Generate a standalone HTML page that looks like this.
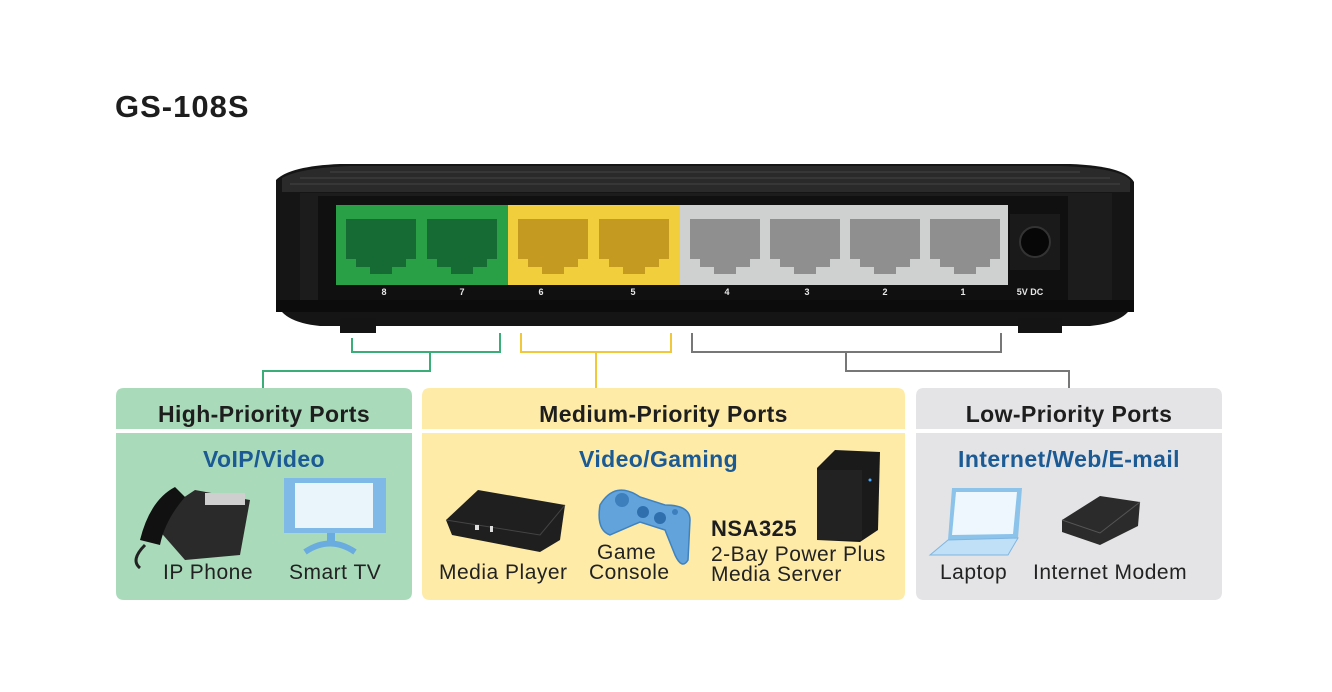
<!DOCTYPE html>
<html><head><meta charset="utf-8">
<style>
html,body{margin:0;padding:0;background:#fff;}
body{width:1332px;height:692px;position:relative;overflow:hidden;font-family:"Liberation Sans",sans-serif;}
.a{position:absolute;}
.t{position:absolute;white-space:nowrap;}
.hd{font-weight:bold;font-size:23px;letter-spacing:0.4px;color:#1e1e1e;text-align:center;}
.sub{font-weight:bold;font-size:23px;letter-spacing:0.4px;color:#1b5a94;text-align:center;}
.lb{font-size:21px;letter-spacing:0.5px;color:#222;}
</style></head><body>
<div class="t" style="left:115px;top:89px;font-size:31px;font-weight:bold;color:#1d1d1d;letter-spacing:1px">GS-108S</div>

<svg class="a" style="left:0;top:0" width="1332" height="692">
 <!-- switch -->
 <path d="M276 180 Q290 166 340 164 L1070 164 Q1125 166 1134 182 L1134 300 Q1130 322 1090 326 L320 326 Q280 322 276 300 Z" fill="#151515"/>
 <path d="M282 178 Q300 168 350 166 L1060 166 Q1120 168 1130 180 L1130 192 L282 192 Z" fill="#2a2a2a"/>
 <g stroke="#444" stroke-width="1"><line x1="330" y1="172" x2="1080" y2="172"/><line x1="300" y1="178" x2="1110" y2="178"/><line x1="290" y1="184" x2="1120" y2="184"/></g>
 <rect x="300" y="193" width="812" height="112" fill="#1c1c1c"/>
 <rect x="318" y="196" width="750" height="107" fill="#101010"/>
 <rect x="276" y="300" width="858" height="12" fill="#0c0c0c"/>
 <rect x="340" y="318" width="36" height="15" fill="#141414"/>
 <rect x="1018" y="318" width="44" height="15" fill="#141414"/>
 <rect x="336" y="205" width="172" height="80" fill="#2aa046"/>
 <rect x="508" y="205" width="172" height="80" fill="#f1cf3c"/>
 <rect x="680" y="205" width="328" height="80" fill="#cfd0d0"/>
 <rect x="1010" y="214" width="50" height="56" fill="#1a1a1a"/>
 <circle cx="1035" cy="242" r="15" fill="#070707" stroke="#333" stroke-width="2"/>
 <g fill="#166b34"><path d="M346 219 h70 v40 h-10 v8 h-14 v7 h-22 v-7 h-14 v-8 h-10z"/><path d="M427 219 h70 v40 h-10 v8 h-14 v7 h-22 v-7 h-14 v-8 h-10z"/></g>
 <g fill="#c59a20"><path d="M518 219 h70 v40 h-10 v8 h-14 v7 h-22 v-7 h-14 v-8 h-10z"/><path d="M599 219 h70 v40 h-10 v8 h-14 v7 h-22 v-7 h-14 v-8 h-10z"/></g>
 <g fill="#8f8f8f"><path d="M690 219 h70 v40 h-10 v8 h-14 v7 h-22 v-7 h-14 v-8 h-10z"/><path d="M770 219 h70 v40 h-10 v8 h-14 v7 h-22 v-7 h-14 v-8 h-10z"/><path d="M850 219 h70 v40 h-10 v8 h-14 v7 h-22 v-7 h-14 v-8 h-10z"/><path d="M930 219 h70 v40 h-10 v8 h-14 v7 h-22 v-7 h-14 v-8 h-10z"/></g>
 <g fill="#e8e8e8" font-family="Liberation Sans" font-weight="bold" font-size="9" text-anchor="middle">
  <text x="384" y="295">8</text><text x="462" y="295">7</text><text x="541" y="295">6</text><text x="633" y="295">5</text>
  <text x="727" y="295">4</text><text x="807" y="295">3</text><text x="885" y="295">2</text><text x="963" y="295">1</text><text x="1030" y="295">5V DC</text>
 </g>
 <!-- connectors -->
 <g fill="none" stroke-width="2">
  <path d="M352 338 V352 H500 V333 M430 352 V371 H263 V388" stroke="#3aae78"/>
  <path d="M521 333 V352 H671 V333 M596 352 V388" stroke="#f0c83a"/>
  <path d="M692 333 V352 H1001 V333 M846 352 V371 H1069 V388" stroke="#777"/>
 </g>
 <!-- panels -->
 <path d="M124 388 H404 Q412 388 412 396 V429 H116 V396 Q116 388 124 388Z" fill="#a9dbba"/>
 <path d="M116 433 H412 V592 Q412 600 404 600 H124 Q116 600 116 592Z" fill="#a9dbba"/>
 <path d="M430 388 H897 Q905 388 905 396 V429 H422 V396 Q422 388 430 388Z" fill="#feeba7"/>
 <path d="M422 433 H905 V592 Q905 600 897 600 H430 Q422 600 422 592Z" fill="#feeba7"/>
 <path d="M924 388 H1214 Q1222 388 1222 396 V429 H916 V396 Q916 388 924 388Z" fill="#e4e4e6"/>
 <path d="M916 433 H1222 V592 Q1222 600 1214 600 H924 Q916 600 916 592Z" fill="#e4e4e6"/>
 <!-- phone -->
 <path d="M150 520 L195 490 L250 500 L240 555 L185 560 Z" fill="#2a2a2a"/>
 <rect x="205" y="493" width="40" height="12" fill="#cfcfcf"/>
 <path d="M140 540 Q150 500 175 487 L185 497 Q165 520 160 545Z" fill="#111"/>
 <path d="M145 545 Q130 560 140 568" stroke="#222" stroke-width="3" fill="none"/>
 <!-- TV -->
 <rect x="284" y="478" width="102" height="55" fill="#7fb9e8"/>
 <rect x="295" y="483" width="78" height="45" fill="#eaf4fb"/>
 <path d="M305 552 Q330 535 355 552" stroke="#6aacdf" stroke-width="6" fill="none"/>
 <rect x="327" y="533" width="8" height="10" fill="#6aacdf"/>
 <!-- media player -->
 <path d="M446 520 L478 490 L565 505 L560 540 L540 552 L452 535Z" fill="#1f1f1f"/>
 <path d="M446 520 L540 535 L565 505" stroke="#444" fill="none"/>
 <rect x="475" y="525" width="4" height="5" fill="#ddd"/><rect x="490" y="526" width="3" height="6" fill="#ddd"/>
 <!-- controller -->
 <path d="M600 505 Q615 480 640 497 L665 505 Q690 505 690 520 L688 560 Q682 570 675 555 L665 530 L640 522 L610 535 Q596 530 600 505Z" fill="#62a3dc" stroke="#3f82c0" stroke-width="1.5"/>
 <circle cx="622" cy="500" r="7" fill="#3d7fbd"/><circle cx="643" cy="512" r="6" fill="#2f6fae"/><circle cx="660" cy="518" r="6" fill="#2f6fae"/><circle cx="675" cy="512" r="3" fill="#3d7fbd"/>
 <!-- NSA -->
 <path d="M817 468 L835 450 L880 452 L878 530 L860 542 L817 540Z" fill="#1a1a1a"/>
 <rect x="817" y="470" width="45" height="70" fill="#222"/>
 <circle cx="870" cy="480" r="1.5" fill="#4af"/>
 <!-- laptop -->
 <path d="M952 488 L1022 488 L1018 538 L948 540Z" fill="#8cc3ea"/>
 <path d="M956 492 L1017 492 L1013 534 L952 535Z" fill="#eef7fd"/>
 <path d="M948 540 L1018 538 L1008 555 L930 555Z" fill="#bfe0f6" stroke="#7fb5e0"/>
 <!-- modem -->
 <path d="M1062 520 L1100 496 L1140 502 L1138 526 L1100 545 L1062 532Z" fill="#2b2b2b"/>
 <path d="M1062 520 L1100 533 L1140 502" stroke="#555" fill="none"/>
</svg>

<div class="t hd" style="left:116px;top:401px;width:296px">High-Priority Ports</div>
<div class="t hd" style="left:422px;top:401px;width:483px">Medium-Priority Ports</div>
<div class="t hd" style="left:916px;top:401px;width:306px">Low-Priority Ports</div>
<div class="t sub" style="left:116px;top:446px;width:296px">VoIP/Video</div>
<div class="t sub" style="left:579px;top:446px">Video/Gaming</div>
<div class="t sub" style="left:916px;top:446px;width:306px">Internet/Web/E-mail</div>
<div class="t lb" style="left:163px;top:561px">IP Phone</div>
<div class="t lb" style="left:289px;top:561px">Smart TV</div>
<div class="t lb" style="left:439px;top:561px">Media Player</div>
<div class="t lb" style="left:597px;top:543px;line-height:20px">Game</div>
<div class="t lb" style="left:589px;top:561px">Console</div>
<div class="t" style="left:711px;top:516px;font-weight:bold;font-size:22px;letter-spacing:0.5px;color:#1e1e1e">NSA325</div>
<div class="t lb" style="left:711px;top:545px;line-height:20px">2-Bay Power Plus<br>Media Server</div>
<div class="t lb" style="left:940px;top:561px">Laptop</div>
<div class="t lb" style="left:1033px;top:561px">Internet Modem</div>
</body></html>
